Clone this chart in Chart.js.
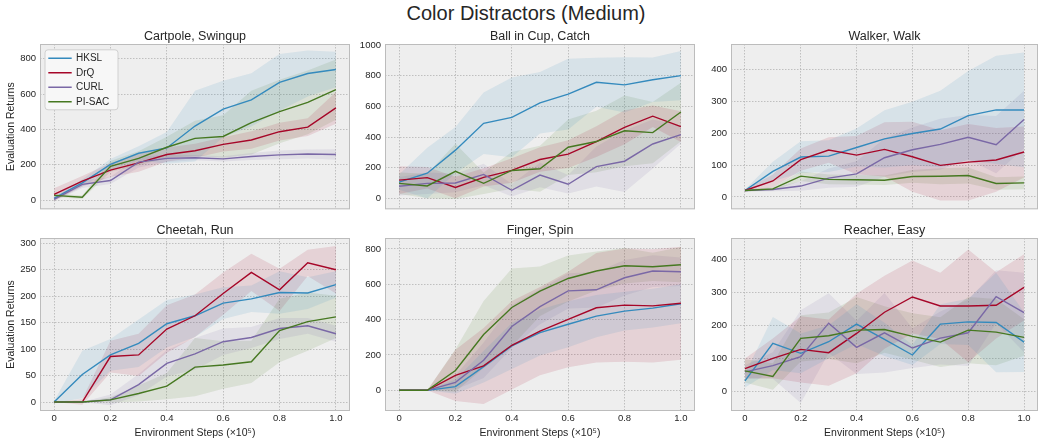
<!DOCTYPE html>
<html>
<head>
<meta charset="utf-8">
<script src="https://cdn.jsdelivr.net/npm/chart.js@4.4.0/dist/chart.umd.min.js"></script>
<style>
body{margin:0;background:#fff;width:1040px;height:439px;position:relative;overflow:hidden;font-family:'Liberation Sans',Arial,sans-serif}
canvas{position:absolute}
#title{position:absolute;left:526px;top:2px;transform:translateX(-50%);font-size:20px;color:#262626;white-space:nowrap}
</style>
</head>
<body>
<div id="title">Color Distractors (Medium)</div>
<canvas id="c0"></canvas>
<canvas id="c1"></canvas>
<canvas id="c2"></canvas>
<canvas id="c3"></canvas>
<canvas id="c4"></canvas>
<canvas id="c5"></canvas>
<script>
// x values (environment steps, x1e5)
const steps = [0, 0.1, 0.2, 0.3, 0.4, 0.5, 0.6, 0.7, 0.8, 0.9, 1.0];
const xTicks = [0, 0.2, 0.4, 0.6, 0.8, 1.0];
const methods = ['HKSL', 'DrQ', 'CURL', 'PI-SAC'];
const colors = ['#348ABD', '#A60628', '#7A68A6', '#467821'];

// Cartpole, Swingup
const cartpoleHKSL  = [10, 97, 202, 265, 295, 419, 515, 567, 666, 716, 739];
const cartpoleDrQ   = [32, 107, 170, 211, 258, 279, 315, 340, 387, 413, 522];
const cartpoleCURL  = [4, 89, 111, 215, 236, 240, 233, 247, 256, 261, 258];
const cartpolePISAC = [27, 16, 191, 236, 299, 349, 360, 438, 501, 553, 625];
const cartpoleHKSLStd  = [10, 20, 30, 40, 90, 200, 160, 150, 160, 130, 100];
const cartpoleDrQStd   = [35, 30, 40, 50, 40, 40, 40, 50, 50, 50, 90];
const cartpoleCURLStd  = [10, 20, 20, 30, 20, 15, 15, 20, 25, 25, 30];
const cartpolePISACStd = [10, 10, 30, 40, 60, 100, 120, 180, 180, 180, 170];
const cartpoleTicks = [0, 200, 400, 600, 800];

// Ball in Cup, Catch
const cupHKSL  = [107, 165, 315, 490, 528, 623, 680, 757, 740, 773, 800];
const cupDrQ   = [120, 136, 72, 138, 183, 254, 289, 371, 464, 536, 468];
const cupCURL  = [80, 99, 101, 157, 54, 153, 93, 208, 243, 355, 416];
const cupPISAC = [99, 82, 177, 99, 183, 194, 334, 371, 441, 429, 563];
const cupHKSLStd  = [50, 165, 150, 200, 260, 200, 230, 160, 180, 145, 160];
const cupDrQStd   = [90, 70, 70, 60, 80, 80, 90, 100, 110, 70, 100];
const cupCURLStd  = [60, 70, 60, 70, 40, 80, 60, 130, 200, 160, 60];
const cupPISACStd = [70, 80, 180, 70, 120, 150, 180, 200, 230, 200, 190];
const cupTicks = [0, 200, 400, 600, 800, 1000];

// Walker, Walk
const walkerHKSL  = [20, 80, 125, 128, 155, 182, 199, 213, 255, 273, 273];
const walkerDrQ   = [20, 50, 117, 147, 131, 149, 126, 99, 109, 116, 141];
const walkerCURL  = [20, 23, 34, 59, 72, 123, 148, 165, 187, 164, 243];
const walkerPISAC = [20, 25, 65, 55, 54, 52, 64, 65, 67, 42, 44];
const walkerHKSLStd  = [3, 30, 50, 50, 60, 90, 100, 120, 140, 170, 180];
const walkerDrQStd   = [3, 20, 35, 40, 60, 85, 110, 110, 120, 100, 80];
const walkerCURLStd  = [3, 5, 15, 30, 40, 60, 70, 80, 70, 90, 90];
const walkerPISACStd = [3, 5, 15, 15, 15, 15, 20, 25, 25, 20, 20];
const walkerTicks = [0, 100, 200, 300, 400];

// Cheetah, Run
const cheetahHKSL  = [0, 52, 89, 111, 148, 163, 187, 195, 207, 206, 222];
const cheetahDrQ   = [0, 0, 86, 89, 138, 163, 205, 245, 212, 263, 250];
const cheetahCURL  = [0, 0, 4, 33, 73, 91, 114, 122, 139, 144, 129];
const cheetahPISAC = [0, 0, 4, 16, 30, 66, 70, 76, 135, 152, 161];
const cheetahHKSLStd  = [2, 45, 30, 45, 45, 40, 30, 25, 40, 30, 25];
const cheetahDrQStd   = [0, 5, 30, 40, 45, 40, 40, 35, 40, 25, 45];
const cheetahCURLStd  = [0, 0, 10, 20, 25, 30, 25, 20, 20, 15, 15];
const cheetahPISACStd = [0, 0, 5, 15, 25, 55, 45, 40, 60, 55, 40];
const cheetahTicks = [0, 50, 100, 150, 200, 250, 300];

// Finger, Spin
const fingerHKSL  = [0, 0, 21, 134, 251, 327, 374, 420, 448, 465, 490];
const fingerDrQ   = [0, 0, 85, 138, 255, 335, 401, 467, 482, 478, 493];
const fingerCURL  = [0, 0, 45, 170, 361, 474, 563, 569, 637, 675, 671];
const fingerPISAC = [0, 0, 112, 316, 469, 561, 633, 675, 705, 699, 711];
const fingerHKSLStd  = [0, 0, 40, 90, 130, 130, 130, 120, 110, 110, 110];
const fingerDrQStd   = [0, 0, 145, 215, 250, 250, 270, 310, 320, 320, 320];
const fingerCURLStd  = [0, 0, 40, 100, 120, 100, 100, 100, 100, 90, 80];
const fingerPISACStd = [0, 0, 120, 190, 220, 140, 130, 110, 100, 80, 100];
const fingerTicks = [0, 200, 400, 600, 800];

// Reacher, Easy
const reacherHKSL  = [33, 146, 116, 151, 204, 158, 111, 204, 211, 209, 150];
const reacherDrQ   = [70, 101, 128, 118, 176, 240, 286, 259, 259, 261, 315];
const reacherCURL  = [60, 79, 106, 207, 134, 178, 132, 162, 178, 287, 239];
const reacherPISAC = [63, 46, 161, 169, 186, 188, 167, 150, 186, 180, 164];
const reacherHKSLStd  = [20, 80, 60, 50, 60, 50, 30, 60, 70, 150, 90];
const reacherDrQStd   = [30, 60, 100, 100, 120, 110, 110, 100, 170, 100, 100];
const reacherCURLStd  = [20, 40, 140, 90, 80, 120, 60, 80, 100, 80, 120];
const reacherPISACStd = [35, 40, 70, 70, 100, 70, 70, 75, 100, 100, 55];
const reacherTicks = [0, 100, 200, 300, 400];

const panels = [
  {title: 'Cartpole, Swingup', means: [cartpoleHKSL, cartpoleDrQ, cartpoleCURL, cartpolePISAC],
   spreads: [cartpoleHKSLStd, cartpoleDrQStd, cartpoleCURLStd, cartpolePISACStd], ticks: cartpoleTicks, min: -52, max: 883},
  {title: 'Ball in Cup, Catch', means: [cupHKSL, cupDrQ, cupCURL, cupPISAC],
   spreads: [cupHKSLStd, cupDrQStd, cupCURLStd, cupPISACStd], ticks: cupTicks, min: -70, max: 1006},
  {title: 'Walker, Walk', means: [walkerHKSL, walkerDrQ, walkerCURL, walkerPISAC],
   spreads: [walkerHKSLStd, walkerDrQStd, walkerCURLStd, walkerPISACStd], ticks: walkerTicks, min: -39, max: 480},
  {title: 'Cheetah, Run', means: [cheetahHKSL, cheetahDrQ, cheetahCURL, cheetahPISAC],
   spreads: [cheetahHKSLStd, cheetahDrQStd, cheetahCURLStd, cheetahPISACStd], ticks: cheetahTicks, min: -17, max: 310},
  {title: 'Finger, Spin', means: [fingerHKSL, fingerDrQ, fingerCURL, fingerPISAC],
   spreads: [fingerHKSLStd, fingerDrQStd, fingerCURLStd, fingerPISACStd], ticks: fingerTicks, min: -117, max: 862},
  {title: 'Reacher, Easy', means: [reacherHKSL, reacherDrQ, reacherCURL, reacherPISAC],
   spreads: [reacherHKSLStd, reacherDrQStd, reacherCURLStd, reacherPISACStd], ticks: reacherTicks, min: -58, max: 464}
];

const plotLeft = [40, 385, 731];
const plotRight = [350, 695, 1038];
const textColor = '#262626';

Chart.defaults.font.family = "'Liberation Sans', Arial, sans-serif";
Chart.defaults.color = textColor;

function fade(hex, a) {
  const n = parseInt(hex.slice(1), 16);
  return 'rgba(' + (n >> 16) + ',' + ((n >> 8) & 255) + ',' + (n & 255) + ',' + a + ')';
}

// axes background, frame, legend box
const bmhLook = {
  id: 'bmhLook',
  beforeDraw(chart) {
    const a = chart.chartArea, ctx = chart.ctx;
    ctx.save();
    ctx.fillStyle = '#eeeeee';
    ctx.fillRect(a.left, a.top, a.right - a.left, a.bottom - a.top);
    ctx.restore();
  },
  afterLayout(chart) {
    if (chart.options.plugins.legend.display) {
      const a = chart.chartArea, lg = chart.legend;
      lg.left = a.left + 4.5;
      lg.top = a.top + 4.8;
      lg.right = a.right;
      lg.bottom = a.bottom;
    }
  },
  beforeDatasetsDraw(chart) {
    const a = chart.chartArea, ctx = chart.ctx;
    ctx.save();
    ctx.strokeStyle = '#bcbcbc';
    ctx.lineWidth = 1;
    ctx.strokeRect(a.left + 0.5, a.top + 0.5, a.right - a.left - 1, a.bottom - a.top - 1);
    if (chart.options.plugins.legend.display) {
      const lg = chart.legend;
      ctx.fillStyle = '#f7f7f7';
      ctx.strokeStyle = '#d0d0d0';
      ctx.beginPath();
      ctx.roundRect(lg.left + 0.5, lg.top + 1, 73, 60, 3);
      ctx.fill();
      ctx.stroke();
      ctx.restore();
      lg.draw();
      return;
    }
    ctx.restore();
  }
};

panels.forEach((p, k) => {
  const col = k % 3, row = Math.floor(k / 3);
  const canvas = document.getElementById('c' + k);
  const left = plotLeft[col] - 40;
  const top = row === 0 ? 24 : 218;
  canvas.width = plotRight[col] - left;
  canvas.height = row === 0 ? 195 : 221;
  canvas.style.left = left + 'px';
  canvas.style.top = top + 'px';

  const datasets = [];
  p.means.forEach((m, i) => {
    const lo = steps.map((x, j) => ({x: x, y: m[j] - p.spreads[i][j]}));
    const hi = steps.map((x, j) => ({x: x, y: m[j] + p.spreads[i][j]}));
    datasets.push({label: methods[i] + ' lo', data: lo, borderWidth: 0, borderColor: 'transparent',
      pointRadius: 0, fill: false, order: 10});
    datasets.push({label: methods[i] + ' hi', data: hi, borderWidth: 0, borderColor: 'transparent',
      pointRadius: 0, fill: '-1', backgroundColor: fade(colors[i], 0.12), order: 10});
  });
  p.means.forEach((m, i) => {
    datasets.push({label: methods[i], data: steps.map((x, j) => ({x: x, y: m[j]})),
      borderColor: colors[i], backgroundColor: colors[i], borderWidth: 1.4,
      pointRadius: 0, fill: false, order: 4 - i});
  });

  new Chart(canvas, {
    type: 'line',
    data: {datasets: datasets},
    plugins: [bmhLook],
    options: {
      responsive: false,
      animation: false,
      events: [],
      layout: {padding: 0},
      plugins: {
        title: {display: true, text: p.title, color: textColor, fullSize: false,
          font: {size: 12.5, weight: 'normal'}, padding: {top: 5, bottom: 0}},
        legend: {
          display: k === 0, position: 'chartArea', align: 'start',
          labels: {boxWidth: 22, boxHeight: 0.1, padding: 4.5, color: textColor, font: {size: 10},
            filter: item => methods.includes(item.text),
            sort: (a, b) => a.datasetIndex - b.datasetIndex}
        },
        tooltip: {enabled: false}
      },
      scales: {
        x: {
          type: 'linear', min: -0.05, max: 1.05,
          afterBuildTicks: s => { s.ticks = xTicks.map(v => ({value: v})); },
          afterFit: s => { s.height = row === 0 ? 1 : 28; },
          grid: {color: '#b2b2b2', lineWidth: 0.8, drawTicks: false},
          border: {display: false, dash: [1.5, 1.5]},
          ticks: {display: row === 1, padding: 2, maxRotation: 0, font: {size: 9.5}, color: textColor,
            callback: v => v === 0 ? '0' : v.toFixed(1)},
          title: {display: row === 1, text: 'Environment Steps (\u00d710\u2075)', color: textColor,
            font: {size: 10.5}, padding: {top: 5, bottom: 0}}
        },
        y: {
          min: p.min, max: p.max,
          afterBuildTicks: s => { s.ticks = p.ticks.map(v => ({value: v})); },
          afterFit: s => { s.width = 40; },
          grid: {color: '#b2b2b2', lineWidth: 0.8, drawTicks: false},
          border: {display: false, dash: [1.5, 1.5]},
          ticks: {padding: 4, font: {size: 9.5}, color: textColor, callback: v => String(v)},
          title: {display: col === 0, text: 'Evaluation Returns', color: textColor,
            font: {size: 10.5}, padding: {top: 5, bottom: 0}}
        }
      }
    }
  });
});
</script>
</body>
</html>
